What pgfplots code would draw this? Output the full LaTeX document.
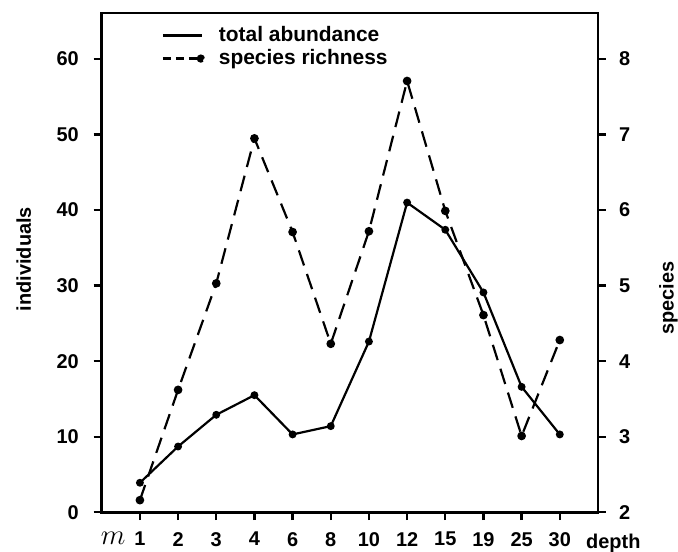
\documentclass[border=0pt]{standalone}
\usepackage{pgfplots}
\usepackage{pgfplotstable}
\pgfplotsset{compat=1.18}
\usepackage{fontspec}
\setmainfont{Liberation Sans}

\pgfplotstableread{
idx depth abund rich
0 1 3.9 2.16
1 2 8.7 3.62
2 3 12.9 5.03
3 4 15.5 6.95
4 6 10.3 5.71
5 8 11.4 4.23
6 10 22.6 5.72
7 12 41.0 7.71
8 15 37.4 5.99
9 19 29.1 4.61
10 25 16.6 3.01
11 30 10.3 4.28
}\datatable

\pgfplotsset{
  solidleg/.style={legend image code/.code={\draw[line width=1.1pt] (0bp,0bp) -- (19.5bp,0bp);}},
  dashleg/.style={legend image code/.code={\draw[line width=1.1pt, dash pattern=on 4bp off 2.5bp] (0bp,0bp) -- (17bp,0bp); \fill (19bp,0bp) circle (1.5pt);}},
  common/.style={
    scale only axis, width=248bp, height=249.5bp,
    xmin=-1, xmax=12,
    tick align=outside,
    major tick length=4bp,
    axis line style={line width=1.3pt},
    every tick/.style={line width=1.2pt, black},
    /pgf/number format/assume math mode=true,
    tick label style={font=\bfseries\fontsize{10}{12}\selectfont},
    label style={font=\bfseries\fontsize{10}{12}\selectfont},
    clip mode=individual,
  }
}

\begin{document}
\begin{tikzpicture}
\begin{axis}[common, name=main,
  ymin=0, ymax=66.1,
  ytick={0,10,...,60},
  ytick pos=left,
  yticklabel style={xshift=-4bp},
  xtick={0,...,11},
  xticklabels={1,2,3,4,6,8,10,12,15,19,25,30},
  xticklabel style={yshift=-2.5bp},
  xtick pos=bottom,
  ylabel={individuals},
  ylabel style={at={(axis description cs:-0.157,0.507)}, anchor=center},
]
\addplot[line width=1.1pt, mark=*, mark size=1.4pt] table[x=idx, y=abund]{\datatable};
\node[font=\itshape\fontsize{14}{15}\selectfont] at (axis description cs:0.0228,-0.053) {$m$};
\node[font=\bfseries\fontsize{10}{12}\selectfont] at (axis description cs:1.031,-0.062) {depth};
\end{axis}
\begin{axis}[common,
  ymin=2, ymax=8.61,
  ytick={2,...,8},
  axis y line*=right,
  axis x line=none,
  yticklabel style={xshift=3bp},
  ylabel={species},
  ylabel style={at={(axis description cs:1.142,0.429)}, anchor=center, rotate=0},
  legend style={draw=none, fill=none, at={(axis description cs:0.108,0.99)}, anchor=north west,
    font=\bfseries\fontsize{10.5}{12}\selectfont, row sep=-1.5bp,
    /tikz/every odd column/.append style={column sep=5bp}},
  legend cell align=left,
]
\addlegendimage{solidleg}
\addlegendentry{total abundance}
\addplot[line width=1.1pt, dash pattern=on 8bp off 4.5bp, mark=*, mark size=1.6pt, mark options={solid}, dashleg]
  table[x=idx, y=rich]{\datatable};
\addlegendentry{species richness}
\end{axis}
\pgfresetboundingbox
\path ([shift={(-50.85bp,-19.5bp)}]main.south west) rectangle ([shift={(40bp,6.5bp)}]main.north east);
\end{tikzpicture}
\end{document}
